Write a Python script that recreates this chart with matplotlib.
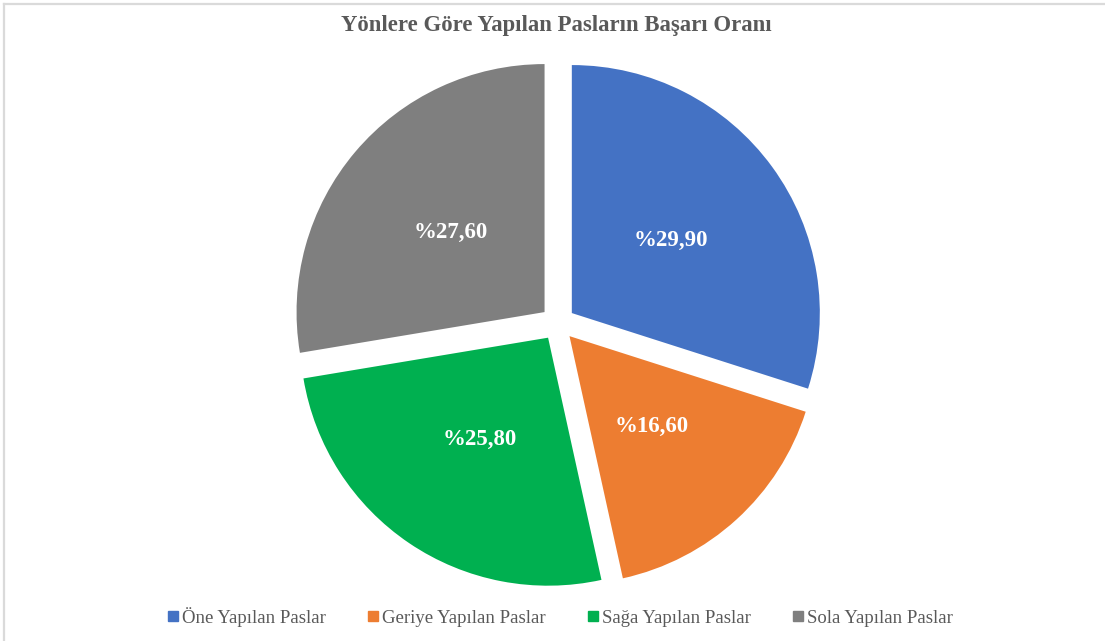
import matplotlib as mpl
mpl.use('Agg')
import matplotlib.pyplot as plt
from matplotlib.lines import Line2D

mpl.rcParams['font.family'] = ['Liberation Serif', 'DejaVu Serif']

title = 'Yönlere Göre Yapılan Pasların Başarı Oranı'
categories = ['Öne Yapılan Paslar', 'Geriye Yapılan Paslar',
              'Sağa Yapılan Paslar', 'Sola Yapılan Paslar']
values = [29.90, 16.60, 25.80, 27.60]
colors = ['#4472C4', '#ED7D31', '#00B050', '#7F7F7F']

W, H = 1105, 641
fig = plt.figure(figsize=(W / 100, H / 100), dpi=100)

# pie centre ~ (558, 323) px, radius ~248 px
cx, cy, r_px, half = 557.8, 323.3, 248.0, 300.0
ax = fig.add_axes([(cx - half) / W, (H - cy - half) / H, 2 * half / W, 2 * half / H])

pct_iter = iter(values)


def fmt(_):
    v = next(pct_iter)
    return '%' + f'{v:.2f}'.replace('.', ',')


wedges, texts, autotexts = ax.pie(
    values,
    colors=colors,
    startangle=90,
    counterclock=False,
    explode=[0.07] * len(values),
    autopct=fmt,
    pctdistance=0.495,
    wedgeprops=dict(linewidth=0),
    textprops=dict(color='white', fontsize=16.5, fontweight='bold'),
)
lim = half / r_px
ax.set_xlim(-lim, lim)
ax.set_ylim(-lim, lim)
ax.set_aspect('equal')
ax.axis('off')

fig.text(556 / W, 1 - 25 / H, title, ha='center', va='center',
         fontsize=16.4, fontweight='bold', color='#595959')

handles = [Line2D([], [], marker='s', ls='', color=c, markersize=6.5) for c in colors]
fig.legend(handles, categories, loc='center', bbox_to_anchor=(560 / W, 1 - 617 / H),
           ncol=4, frameon=False, fontsize=13.5, labelcolor='#595959',
           handlelength=0.6, handletextpad=0.2, columnspacing=2.2)

# faint frame lines at top and left edges
fig.add_artist(Line2D([4 / W, 1], [1 - 3.8 / H, 1 - 3.8 / H], transform=fig.transFigure,
                      color='#dadada', lw=1.6))
fig.add_artist(Line2D([4 / W, 4 / W], [0, 1 - 3.8 / H], transform=fig.transFigure,
                      color='#dadada', lw=1.6))

fig.savefig('out.png', dpi=100, facecolor='white')
